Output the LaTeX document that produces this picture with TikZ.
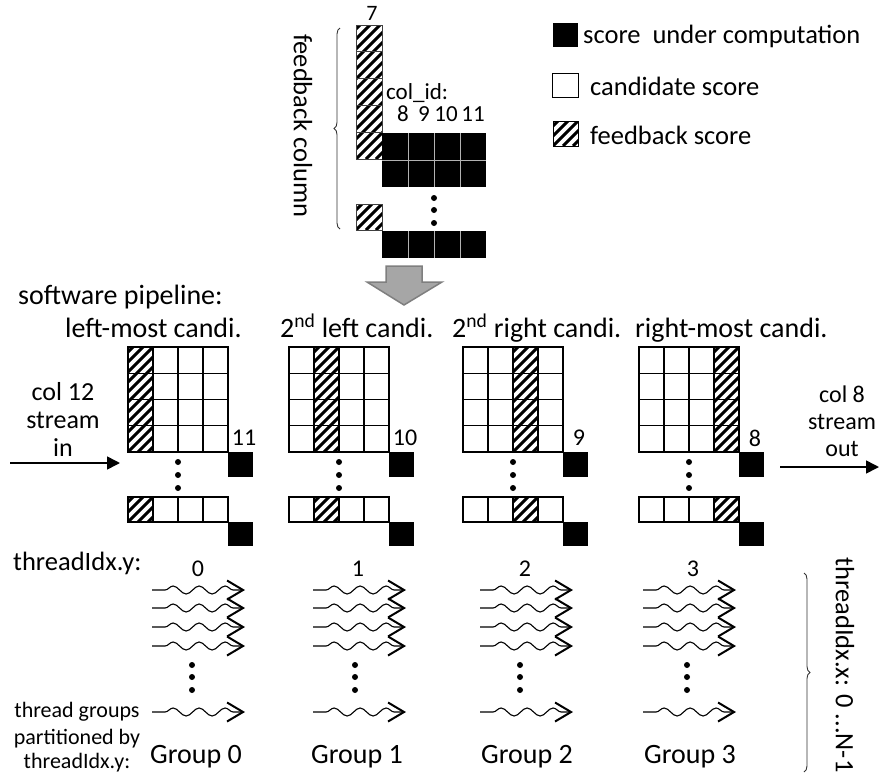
\documentclass[tikz,border=0pt]{standalone}
\usepackage{fontspec}
\setmainfont{Carlito}
\usetikzlibrary{arrows.meta,decorations.pathmorphing,decorations.pathreplacing}
\definecolor{arrowgray}{HTML}{A6A6A6}
\definecolor{arrowedge}{HTML}{7F7F7F}
\newcommand{\hatchbox}[4]{%
  \begin{scope}
    \clip (#1,#2) rectangle (#3,#4);
    \foreach \s in {-150,-140,...,40} \draw[line width=3pt] (#1+\s,#4) -- ++(160,-160);
  \end{scope}}
\tikzset{
  lbl/.style={font=\fontsize{26.5}{31}\selectfont, inner sep=0pt},
  big/.style={font=\fontsize{28}{32}\selectfont, inner sep=0pt},
  sml/.style={font=\fontsize{22}{26}\selectfont, inner sep=0pt},
  mid/.style={font=\fontsize{24}{28}\selectfont, inner sep=0pt},
  cid/.style={font=\fontsize{23}{27}\selectfont, inner sep=0pt},
  cellb/.style={draw=black, line width=1.1pt},
  wave/.style={line width=1.1pt, decorate,
    decoration={snake, amplitude=4pt, segment length=26pt, pre length=13pt, post length=8pt},
    -{Straight Barb[length=16pt,width=19pt,line width=2pt]}},
  flow/.style={line width=1.6pt, -{Triangle[length=13pt,width=13pt]}},
  bracethin/.style={draw=black!80, line width=0.9pt, decorate, decoration={brace, amplitude=6pt}}
}
\begin{document}
\begin{tikzpicture}[x=1pt,y=-1pt]
\useasboundingbox (0,0) rectangle (879,777);

% ---------- top: feedback column ----------
\node[sml] (seven) at (372,13) {7};
\hatchbox{356}{25}{382}{159}
\foreach \r in {0,...,4} \draw[draw=black!75, line width=0.8pt] (356,25+\r*26.8) rectangle ++(26,26.8);
\fill (382,133) rectangle (486,187);
\foreach \xx in {408,434,460} \draw[gray!60, line width=0.8pt] (\xx,133) -- (\xx,187);
\draw[gray!60, line width=0.8pt] (382,160) -- (486,160);
\fill (382,231) rectangle (486,258);
\foreach \xx in {408,434,460} \draw[gray!60, line width=0.8pt] (\xx,231) -- (\xx,258);
\hatchbox{356}{204}{382}{230}
\draw[draw=black!75, line width=0.8pt] (356,204) rectangle (382,230);
\foreach \yy in {198,210,223} \fill (434,\yy) circle (3);
\node[cid, anchor=west] (colid) at (386,93) {col\_id:};
\node[cid] (c8) at (403,114) {8};
\node[cid] (c9) at (424,114) {9};
\node[cid] (c10) at (446,114) {10};
\node[cid] (c11) at (473,114) {11};
\coordinate (fbbot) at (340,229);
\coordinate (fbtop) at (340,28);
\draw[bracethin] (fbbot) -- (fbtop);
\node[lbl, rotate=-90] (fbcol) at (303,126) {feedback column};

% ---------- legend ----------
\fill (553,23) rectangle (578,47);
\node[lbl, anchor=west] (lg1) at (583,36) {score\ \ under computation};
\draw[line width=0.8pt] (552,73) rectangle (578,97);
\node[lbl, anchor=west] (lg2) at (590,86) {candidate score};
\hatchbox{553}{121}{578}{146}
\draw[line width=0.8pt] (553,121) rectangle (578,146);
\node[lbl, anchor=west] (lg3) at (590,135) {feedback score};

% ---------- gray arrow ----------
\draw[fill=arrowgray, draw=arrowedge, line width=1.5pt, line join=miter]
  (386,266) -- (422,266) -- (422,282) -- (442,282) -- (404,305) -- (367,282) -- (386,282) -- cycle;

% ---------- pipeline ----------
\node[big, anchor=base west] (swp) at (18,304) {software pipeline:};
\node[big, anchor=base west] (t0) at (65,337) {left-most candi.};
\node[big, anchor=base west] (t1) at (280,337) {2\textsuperscript{nd} left candi.};
\node[big, anchor=base west] (t2) at (452,337) {2\textsuperscript{nd} right candi.};
\node[big, anchor=base west] (t3) at (635,337) {right-most candi.};

\foreach \k/\xo/\num in {0/128/11, 1/289/10, 2/463/9, 3/639/8} {
  \pgfmathsetmacro{\hx}{\xo+\k*25}
  \pgfmathsetmacro{\hxx}{\xo+\k*25+25}
  \hatchbox{\hx}{347}{\hxx}{452}
  \hatchbox{\hx}{497}{\hxx}{522}
  \foreach \c in {0,...,3} {
    \foreach \r in {0,...,3} \draw[cellb] (\xo+\c*25,347+\r*26.25) rectangle ++(25,26.25);
    \draw[cellb] (\xo+\c*25,497) rectangle ++(25,25);
  }
  \fill (\xo+100,452) rectangle ++(25,25);
  \fill (\xo+100,522) rectangle ++(25,24);
  \foreach \yy in {462,475,488} \fill (\xo+50,\yy) circle (3);
  \node[mid] (n\k) at (\xo+116,438) {\num};
}

\node[font=\fontsize{26}{30}\selectfont, inner sep=0pt, align=center] (inlbl) at (63,419) {col 12\\[-2pt]stream\\[-2pt]in};
\coordinate (instart) at (10,463);
\coordinate (inend) at (120,463);
\draw[flow] (instart) -- (inend);
\node[mid, align=center] (outlbl) at (842,421) {col 8\\[-1pt]stream\\[-1pt]out};
\coordinate (outstart) at (780,467);
\coordinate (outend) at (879,467);
\draw[flow] (outstart) -- (outend);

% ---------- threads ----------
\node[lbl, anchor=west] (tidy) at (13,563) {threadIdx.y:};
\foreach \g/\xs/\lx/\dx/\gx in {0/152/198/192/196, 1/313/358/355/357, 2/480/525/520/527, 3/643/693/687/690} {
  \node[mid] (g\g num) at (\lx,569) {\g};
  \foreach \yy in {590,608,627,646} {
    \coordinate (ws) at (\xs,\yy);
    \coordinate (we) at (\xs+93,\yy);
    \draw[wave] (ws) -- (we);
  }
  \coordinate (ws) at (\xs,712);
  \coordinate (we) at (\xs+93,712);
  \draw[wave] (ws) -- (we);
  \foreach \yy in {665,677,690} \fill (\dx,\yy) circle (3);
  \node[big] (grp\g) at (\gx,757) {Group \g};
}
\node[sml] (tg1) at (77,712) {thread groups};
\node[sml] (tg2) at (77,739) {partitioned by};
\node[sml] (tg3) at (77,763) {threadIdx.y:};

\coordinate (rbtop) at (804,573);
\coordinate (rbbot) at (804,772);
\draw[bracethin] (rbtop) -- (rbbot);
\node[lbl, rotate=-90] (tidx) at (845,665) {threadIdx.x: 0 ...N-1};
\end{tikzpicture}
\end{document}
